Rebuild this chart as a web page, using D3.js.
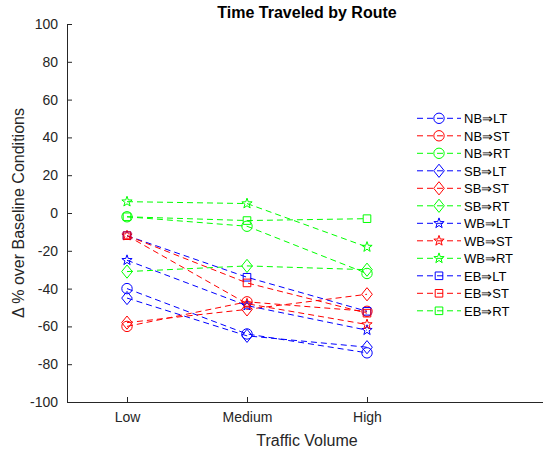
<!DOCTYPE html>
<html>
<head>
<meta charset="utf-8">
<script src="https://cdn.jsdelivr.net/npm/d3@7"></script>
<style>
  body { margin: 0; background: #fff; }
  svg { display: block; font-family: "Liberation Sans", Arial, sans-serif; }
</style>
</head>
<body>
<div class="chart"></div>
<script>
// categories on the x axis
var categories = ["Low", "Medium", "High"];

// route names (legend order)
var routes = ["NB⇒LT", "NB⇒ST", "NB⇒RT", "SB⇒LT", "SB⇒ST", "SB⇒RT",
              "WB⇒LT", "WB⇒ST", "WB⇒RT", "EB⇒LT", "EB⇒ST", "EB⇒RT"];

// values, one array per route (Low, Medium, High)
var nbLT = [-40, -64, -74];
var nbST = [-60, -47, -52];
var nbRT = [-2, -7, -32];
var sbLT = [-45, -65, -71];
var sbST = [-58, -51, -43];
var sbRT = [-31, -28, -30];
var wbLT = [-25, -49, -62];
var wbST = [-12, -48, -59];
var wbRT = [6, 5, -18];
var ebLT = [-12, -34, -52];
var ebST = [-12, -37, -53];
var ebRT = [-2, -4, -3];

var seriesValues = [nbLT, nbST, nbRT, sbLT, sbST, sbRT, wbLT, wbST, wbRT, ebLT, ebST, ebRT];

var yTicks = [-100, -80, -60, -40, -20, 0, 20, 40, 60, 80, 100];

var width = 543, height = 452;
var axisColor = "#262626";
var colors = ["#0000ff", "#ff0000", "#00ff00"];
var markers = ["circle", "diamond", "star", "square"];

var svg = d3.select(".chart").append("svg")
    .attr("width", width)
    .attr("height", height);

// x: positions 1..3 for categories, axis runs a bit past the legend
var x = d3.scaleLinear().domain([0.5, 4.5]).range([67, 547]);
var y = d3.scaleLinear().domain([-100, 100]).range([402, 24]);

// marker shapes
function markerPath(type) {
    if (type == "circle") {
        var r = 5.2;
        return "M" + r + ",0A" + r + "," + r + " 0 1,1 " + (-r) + ",0A" + r + "," + r + " 0 1,1 " + r + ",0Z";
    } else if (type == "diamond") {
        return "M0,-6.6L5.3,0L0,6.6L-5.3,0Z";
    } else if (type == "square") {
        return "M-3.8,-3.8H3.8V3.8H-3.8Z";
    } else {
        var pts = [], R = 5.4, ri = R * 0.4;
        for (var k = 0; k < 10; k++) {
            var a = -Math.PI / 2 + k * Math.PI / 5;
            var rr = k % 2 ? ri : R;
            pts.push([rr * Math.cos(a), rr * Math.sin(a)]);
        }
        return "M" + pts.map(function (p) { return p[0].toFixed(2) + "," + p[1].toFixed(2); }).join("L") + "Z";
    }
}

//Axes -- plain hyphen minus like the original
var yAxis = d3.axisLeft(y).tickValues(yTicks)
    .tickFormat(function (d) { return String(d); })
    .tickSizeInner(-5).tickSizeOuter(0).tickPadding(9);
var gy = svg.append("g").attr("transform", "translate(67,0)").call(yAxis);

var xAxis = d3.axisBottom(x).tickValues([1, 2, 3])
    .tickFormat(function (d) { return categories[d - 1]; })
    .tickSizeInner(-5).tickSizeOuter(0).tickPadding(10);
var gx = svg.append("g").attr("transform", "translate(0,402)").call(xAxis);

[gx, gy].forEach(function (g) {
    g.select(".domain").attr("stroke", axisColor).attr("stroke-width", 1);
    g.selectAll(".tick line").attr("stroke", axisColor);
    g.selectAll(".tick text").attr("fill", axisColor).style("font-size", "14px");
});

// labels
svg.append("text")
    .attr("x", 307).attr("y", 18)
    .attr("text-anchor", "middle")
    .style("font-size", "16px").style("font-weight", "bold")
    .attr("fill", "#000")
    .text("Time Traveled by Route");

svg.append("text")
    .attr("x", 307).attr("y", 446)
    .attr("text-anchor", "middle")
    .style("font-size", "16px")
    .attr("fill", axisColor)
    .text("Traffic Volume");

svg.append("text")
    .attr("transform", "translate(24,213) rotate(-90)")
    .attr("text-anchor", "middle")
    .style("font-size", "16px")
    .attr("fill", axisColor)
    .text("Δ % over Baseline Conditions");

// series lines + markers
var line = d3.line()
    .x(function (d, i) { return x(i + 1); })
    .y(function (d) { return y(d); });

var plot = svg.append("g").attr("class", "plot");

routes.forEach(function (name, s) {
    var col = colors[s % 3];
    var mk = markers[Math.floor(s / 3)];
    var g = plot.append("g");
    g.append("path")
        .datum(seriesValues[s])
        .attr("d", line)
        .attr("fill", "none")
        .attr("stroke", col)
        .attr("stroke-width", 1)
        .attr("stroke-dasharray", "6,4");
    g.selectAll(".mk")
        .data(seriesValues[s])
        .enter()
        .append("path")
        .attr("class", "mk")
        .attr("transform", function (d, i) { return "translate(" + x(i + 1) + "," + y(d) + ")"; })
        .attr("d", markerPath(mk))
        .attr("fill", "none")
        .attr("stroke", col)
        .attr("stroke-width", 1);
});

//Legend
var legend = svg.append("g").attr("class", "legend");
var entry = legend.selectAll(".entry")
    .data(routes)
    .enter()
    .append("g")
    .attr("class", "entry")
    .attr("transform", function (d, i) { return "translate(0," + (118.3 + i * 17.5) + ")"; });

entry.append("line")
    .attr("x1", 417).attr("x2", 461)
    .attr("y1", 0).attr("y2", 0)
    .attr("stroke", function (d, i) { return colors[i % 3]; })
    .attr("stroke-width", 1)
    .attr("stroke-dasharray", "6,4");

entry.append("path")
    .attr("transform", "translate(439,0)")
    .attr("d", function (d, i) { return markerPath(markers[Math.floor(i / 3)]); })
    .attr("fill", "none")
    .attr("stroke", function (d, i) { return colors[i % 3]; })
    .attr("stroke-width", 1);

entry.append("text")
    .attr("x", 464).attr("y", 4.8)
    .style("font-size", "13px")
    .attr("fill", "#000")
    .text(function (d) { return d; });
</script>
</body>
</html>
